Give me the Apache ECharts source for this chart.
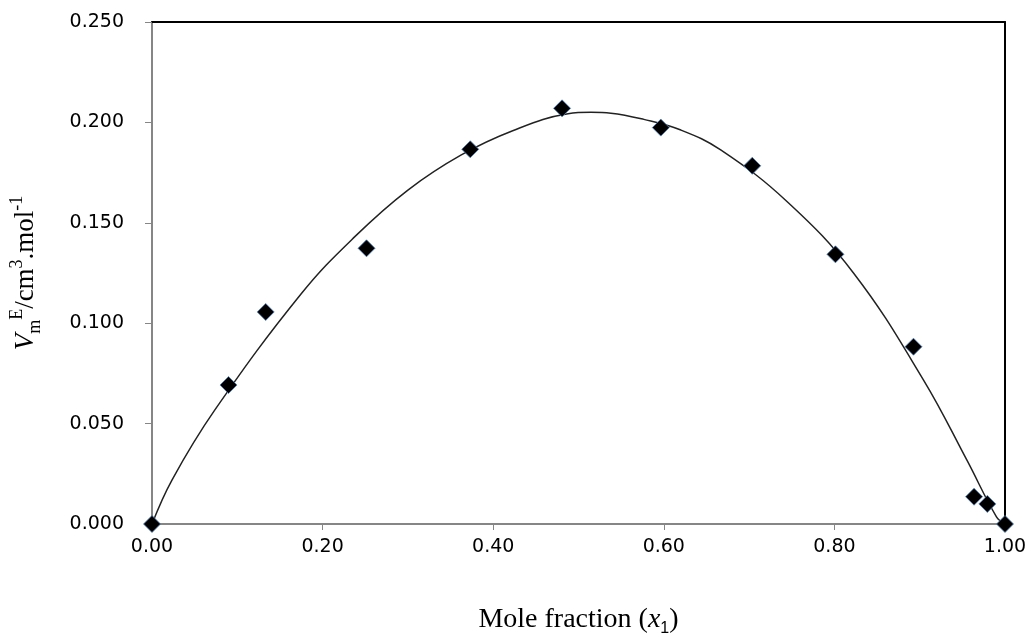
<!DOCTYPE html>
<html>
<head>
<meta charset="utf-8">
<script src="https://cdn.jsdelivr.net/npm/echarts@6/dist/echarts.min.js"></script>
<style>
html,body{margin:0;padding:0;background:#fff;}
#chart{width:1032px;height:642px;}
</style>
</head>
<body>
<div id="chart"></div>
<script>
// Measured data points (mole fraction x1, excess molar volume)
const pointX = [0, 0.0897, 0.1333, 0.2515, 0.3731, 0.4807, 0.5965, 0.7037, 0.8012, 0.8927, 0.9637, 0.9793, 1.0];
const pointY = [0, 0.0692, 0.1056, 0.1373, 0.1866, 0.2070, 0.1974, 0.1784, 0.1343, 0.0883, 0.0136, 0.0100, 0];

// Fitted curve
const curveX = [0, 0.0234, 0.0737, 0.1754, 0.2378, 0.300, 0.3626, 0.4236, 0.4877, 0.5146, 0.538, 0.5766, 0.620, 0.6667, 0.7447, 0.8226, 0.9045, 0.9552, 0.990, 1.0];
const curveY = [0, 0.0219, 0.0568, 0.1149, 0.1431, 0.1663, 0.1838, 0.1960, 0.2043, 0.2050, 0.2046, 0.2015, 0.1962, 0.1863, 0.1605, 0.1249, 0.0717, 0.0319, 0.0036, 0];

// Axis ticks
const xTicks = [0, 0.2, 0.4, 0.6, 0.8, 1.0];
const yTicks = [0, 0.05, 0.10, 0.15, 0.20, 0.25];

const chart = echarts.init(document.getElementById('chart'));
const gray = '#868686';
const tickFont = 'DejaVu Sans';
const serif = 'Liberation Serif';

chart.setOption({
  animation: false,
  backgroundColor: '#fff',
  grid: { left: 150, right: 27, top: 22, bottom: 118 },
  xAxis: [{
    type: 'value', min: xTicks[0], max: xTicks[xTicks.length - 1], interval: 0.2,
    position: 'bottom',
    axisLine: { lineStyle: { color: gray, width: 2 } },
    axisTick: { show: true, length: 6, lineStyle: { color: gray, width: 1 } },
    splitLine: { show: false },
    axisLabel: { margin: 14, fontFamily: tickFont, fontSize: 19, color: '#000',
      formatter: v => v.toFixed(2) },
    name: 'Mole fraction ({i|x}{sub|1})',
    nameLocation: 'middle', nameGap: 79,
    nameTextStyle: {
      fontFamily: serif, fontSize: 28, color: '#000',
      rich: {
        i: { fontFamily: serif, fontStyle: 'italic', fontSize: 28, color: '#000', lineHeight: 34 },
        sub: { fontFamily: 'Liberation Sans', fontSize: 16, color: '#000', verticalAlign: 'bottom', lineHeight: 22 }
      }
    }
  }, {
    type: 'value', min: 0, max: 1, position: 'top',
    axisLine: { show: true, onZero: false, lineStyle: { color: '#000', width: 2 } },
    axisTick: { show: false }, axisLabel: { show: false }, splitLine: { show: false }
  }],
  yAxis: [{
    type: 'value', min: yTicks[0], max: yTicks[yTicks.length - 1], interval: 0.05,
    position: 'left',
    axisLine: { show: true, lineStyle: { color: gray, width: 2 } },
    axisTick: { show: true, length: 7, lineStyle: { color: gray, width: 1 } },
    splitLine: { show: false },
    axisLabel: { margin: 28, fontFamily: tickFont, fontSize: 19, color: '#000',
      formatter: v => v.toFixed(3) },
    name: '{i|V}{sub|m}{sup|E}{n|/cm}{sup|3}{n|.mol}{sup|-1}',
    nameLocation: 'middle', nameGap: 108, nameRotate: 90,
    nameTextStyle: {
      fontFamily: serif, fontSize: 27, color: '#000',
      rich: {
        i: { fontFamily: serif, fontStyle: 'italic', fontSize: 27, color: '#000', lineHeight: 36 },
        n: { fontFamily: serif, fontSize: 27, color: '#000', lineHeight: 36 },
        sup: { fontFamily: serif, fontSize: 18, color: '#000', verticalAlign: 'top', lineHeight: 20 },
        sub: { fontFamily: serif, fontSize: 18, color: '#000', verticalAlign: 'bottom', lineHeight: 20 }
      }
    }
  }, {
    type: 'value', min: 0, max: 0.25, position: 'right',
    axisLine: { show: true, onZero: false, lineStyle: { color: '#000', width: 2 } },
    axisTick: { show: false }, axisLabel: { show: false }, splitLine: { show: false }
  }],
  series: [{
    type: 'line',
    data: curveX.map((x, i) => [x, curveY[i]]),
    smooth: 0.4,
    showSymbol: false,
    lineStyle: { color: '#222', width: 1.5 },
    z: 2
  }, {
    type: 'scatter',
    data: pointX.map((x, i) => [x, pointY[i]]),
    symbol: 'diamond',
    symbolSize: 17,
    itemStyle: { color: '#000', borderColor: '#4f81bd', borderWidth: 0.8, opacity: 1 },
    z: 3
  }]
});
</script>
</body>
</html>
